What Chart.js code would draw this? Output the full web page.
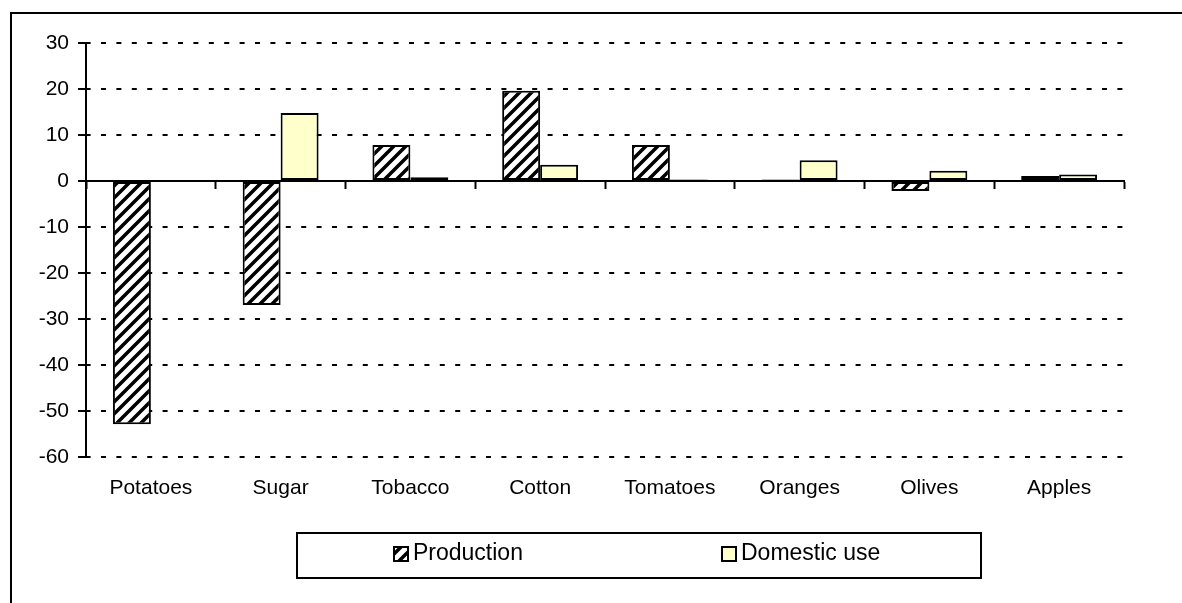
<!DOCTYPE html>
<html>
<head>
  <title>Production and domestic use</title>
  <meta charset="utf-8" />
  <script src="https://cdn.jsdelivr.net/npm/chart.js@4.4.1/dist/chart.umd.min.js"></script>
  <style>
    html, body {
      margin: 0;
      padding: 0;
      background: #ffffff;
    }
    #wrap {
      position: relative;
      width: 1182px;
      height: 603px;
    }
  </style>
</head>
<body>
  <div id="wrap"><canvas id="chart"></canvas></div>
  <script>
    var categories = ['Potatoes', 'Sugar', 'Tobacco', 'Cotton', 'Tomatoes', 'Oranges', 'Olives', 'Apples'];
    var production = [-52.9, -27.0, 7.8, 19.6, 7.8, 0.3, -2.2, 1.1];
    var domesticUse = [-0.2, 14.8, 0.8, 3.5, 0.3, 4.5, 2.2, 1.4];
    var seriesNames = ['Production', 'Domestic use'];
    var yTicks = [-60, -50, -40, -30, -20, -10, 0, 10, 20, 30];

    var FONT = 'Arial, "Liberation Sans", sans-serif';

    // upward diagonal hatch, like the old Excel "wide upward diagonal" fill
    function makeHatch() {
      var c = document.createElement('canvas');
      c.width = 12;
      c.height = 12;
      var g = c.getContext('2d');
      g.fillStyle = '#ffffff';
      g.fillRect(0, 0, 12, 12);
      g.strokeStyle = '#000000';
      g.lineWidth = 3.5;
      g.beginPath();
      g.moveTo(-3, 3); g.lineTo(3, -3);
      g.moveTo(0, 12); g.lineTo(12, 0);
      g.moveTo(9, 15); g.lineTo(15, 9);
      g.stroke();
      return g.createPattern(c, 'repeat');
    }
    var hatch = makeHatch();
    var fills = [hatch, '#FFFFCC'];

    var frameAndLegend = {
      id: 'frameAndLegend',
      afterDraw: function(chart) {
        var ctx = chart.ctx;
        ctx.save();
        ctx.strokeStyle = '#000000';
        ctx.lineWidth = 2;
        // outer frame, cut off at the right and bottom like the original
        ctx.beginPath();
        ctx.moveTo(11, chart.height);
        ctx.lineTo(11, 13);
        ctx.lineTo(chart.width, 13);
        ctx.stroke();

        // legend box
        ctx.strokeRect(297, 533, 684, 45);
        var swatchX = [394, 722];
        ctx.font = '23px ' + FONT;
        ctx.textBaseline = 'middle';
        chart.data.datasets.forEach(function(ds, i) {
          ctx.fillStyle = fills[i];
          ctx.fillRect(swatchX[i], 547, 14, 14);
          ctx.lineWidth = 2;
          ctx.strokeRect(swatchX[i], 547, 14, 14);
          ctx.fillStyle = '#000000';
          ctx.fillText(ds.label, swatchX[i] + 19, 554);
        });
        ctx.restore();
      }
    };

    new Chart(document.getElementById('chart'), {
      type: 'bar',
      data: {
        labels: categories,
        datasets: [
          { label: seriesNames[0], data: production, backgroundColor: fills[0] },
          { label: seriesNames[1], data: domesticUse, backgroundColor: fills[1] }
        ]
      },
      options: {
        responsive: true,
        maintainAspectRatio: false,
        animation: false,
        categoryPercentage: 0.585,
        barPercentage: 1,
        layout: { padding: { left: 0, right: 58, top: 43, bottom: 91 } },
        elements: {
          bar: { borderColor: '#000000', borderWidth: 2, borderSkipped: false }
        },
        plugins: {
          legend: { display: false },
          tooltip: { enabled: false }
        },
        scales: {
          x: {
            type: 'category',
            offset: true,
            grid: { display: false },
            border: { display: false },
            ticks: { color: '#000000', padding: 11, font: { family: FONT, size: 21 }, maxRotation: 0 }
          },
          x0: {
            type: 'category',
            axis: 'x',
            position: { y: 0 },
            offset: true,
            grid: { display: true, offset: true, drawOnChartArea: false, drawTicks: true, tickLength: 7, tickWidth: 2, tickColor: '#000000' },
            border: { display: true, color: '#000000', width: 2 },
            ticks: { display: false }
          },
          y: {
            min: yTicks[0],
            max: yTicks[yTicks.length - 1],
            afterFit: function(scale) { scale.width = 86; },
            ticks: { stepSize: 10, color: '#000000', padding: 9, font: { family: FONT, size: 21 } },
            grid: {
              color: function(c) { return c.tick && c.tick.value === 0 ? 'rgba(0,0,0,0)' : '#000000'; },
              lineWidth: 2,
              tickLength: 8,
              tickWidth: 2,
              tickColor: '#000000'
            },
            border: { display: true, color: '#000000', width: 2, dash: [5, 10.4], dashOffset: 1.4 }
          }
        }
      },
      plugins: [frameAndLegend]
    });
  </script>
</body>
</html>
